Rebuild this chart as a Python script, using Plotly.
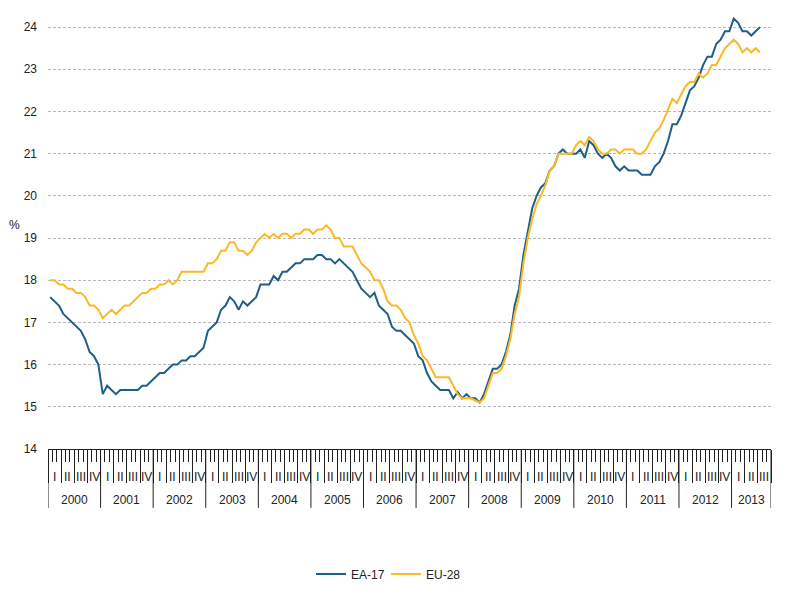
import plotly.graph_objects as go

# ---------------- data (monthly, Jan 2000 onwards, %) ----------------
first_year = 2000
axis_years = list(range(2000, 2014))
quarter_labels = ["I", "II", "III", "IV"]
axis_months = 165  # Jan 2000 .. Sep 2013 shown on the axis

ea17 = [
    17.6, 17.5, 17.4, 17.2, 17.1, 17.0, 16.9, 16.8, 16.6, 16.3, 16.2, 16.0,   # 2000
    15.3, 15.5, 15.4, 15.3, 15.4, 15.4, 15.4, 15.4, 15.4, 15.5, 15.5, 15.6,   # 2001
    15.7, 15.8, 15.8, 15.9, 16.0, 16.0, 16.1, 16.1, 16.2, 16.2, 16.3, 16.4,   # 2002
    16.8, 16.9, 17.0, 17.3, 17.4, 17.6, 17.5, 17.3, 17.5, 17.4, 17.5, 17.6,   # 2003
    17.9, 17.9, 17.9, 18.1, 18.0, 18.2, 18.2, 18.3, 18.4, 18.4, 18.5, 18.5,   # 2004
    18.5, 18.6, 18.6, 18.5, 18.5, 18.4, 18.5, 18.4, 18.3, 18.2, 18.0, 17.8,   # 2005
    17.7, 17.6, 17.7, 17.4, 17.3, 17.2, 16.9, 16.8, 16.8, 16.7, 16.6, 16.5,   # 2006
    16.2, 16.1, 15.8, 15.6, 15.5, 15.4, 15.4, 15.4, 15.2, 15.35, 15.2, 15.3,  # 2007
    15.2, 15.2, 15.1, 15.3, 15.6, 15.9, 15.9, 16.0, 16.3, 16.7, 17.4, 17.8,   # 2008
    18.6, 19.2, 19.7, 20.0, 20.2, 20.3, 20.6, 20.7, 21.0, 21.1, 21.0, 21.0,   # 2009
    21.0, 21.1, 20.9, 21.3, 21.2, 21.0, 20.9, 21.0, 20.9, 20.7, 20.6, 20.7,   # 2010
    20.6, 20.6, 20.6, 20.5, 20.5, 20.5, 20.7, 20.8, 21.0, 21.3, 21.7, 21.7,   # 2011
    21.9, 22.2, 22.5, 22.6, 22.8, 23.1, 23.3, 23.3, 23.6, 23.7, 23.9, 23.9,   # 2012
    24.2, 24.1, 23.9, 23.9, 23.8, 23.9, 24.0,                                 # 2013
]

eu28 = [
    18.0, 18.0, 17.9, 17.9, 17.8, 17.8, 17.7, 17.7, 17.6, 17.4, 17.4, 17.3,   # 2000
    17.1, 17.2, 17.3, 17.2, 17.3, 17.4, 17.4, 17.5, 17.6, 17.7, 17.7, 17.8,   # 2001
    17.8, 17.9, 17.9, 18.0, 17.9, 18.0, 18.2, 18.2, 18.2, 18.2, 18.2, 18.2,   # 2002
    18.4, 18.4, 18.5, 18.7, 18.7, 18.9, 18.9, 18.7, 18.7, 18.6, 18.7, 18.9,   # 2003
    19.0, 19.1, 19.0, 19.1, 19.0, 19.1, 19.1, 19.0, 19.1, 19.1, 19.2, 19.2,   # 2004
    19.1, 19.2, 19.2, 19.3, 19.2, 19.0, 19.0, 18.8, 18.8, 18.8, 18.6, 18.4,   # 2005
    18.3, 18.2, 18.0, 18.0, 17.8, 17.5, 17.4, 17.4, 17.3, 17.1, 17.0, 16.7,   # 2006
    16.5, 16.2, 16.1, 15.9, 15.7, 15.7, 15.7, 15.7, 15.5, 15.3, 15.2, 15.2,   # 2007
    15.2, 15.15, 15.1, 15.2, 15.5, 15.8, 15.8, 15.9, 16.2, 16.6, 17.2, 17.6,  # 2008
    18.4, 19.0, 19.45, 19.8, 20.0, 20.25, 20.6, 20.7, 21.0, 21.0, 21.0, 21.0, # 2009
    21.2, 21.3, 21.2, 21.4, 21.3, 21.1, 21.0, 21.0, 21.1, 21.1, 21.0, 21.1,   # 2010
    21.1, 21.1, 21.0, 21.0, 21.1, 21.3, 21.5, 21.6, 21.8, 22.05, 22.3, 22.2,  # 2011
    22.4, 22.6, 22.7, 22.7, 22.9, 22.8, 22.9, 23.1, 23.1, 23.3, 23.5, 23.6,   # 2012
    23.7, 23.6, 23.4, 23.5, 23.4, 23.5, 23.4,                                 # 2013
]

y_ticks = list(range(14, 25))

# ---------------- layout helpers ----------------
FIG_W, FIG_H = 810, 593
PLOT_L, PLOT_R, PLOT_T, PLOT_B = 48, 771, 6, 450
PW, PH = PLOT_R - PLOT_L, PLOT_B - PLOT_T


def pxx(x):
    return (x - PLOT_L) / PW


def pxy(y):
    return (PLOT_B - y) / PH


BLUE = "#1d5f88"
YELLOW = "#fbb827"
INK = "#222222"
FONT = "Liberation Sans, Arial, sans-serif"

fig = go.Figure()
fig.add_trace(go.Scatter(x=list(range(len(ea17))), y=ea17, mode="lines", name="EA-17",
                         line=dict(color=BLUE, width=2), legend="legend"))
fig.add_trace(go.Scatter(x=list(range(len(eu28))), y=eu28, mode="lines", name="EU-28",
                         line=dict(color=YELLOW, width=2), legend="legend2"))

month_bounds = [m - 0.5 for m in range(axis_months + 1)]
quarter_bounds = [m - 0.5 for m in range(0, axis_months + 1, 3)]
year_bounds = [m - 0.5 for m in range(0, axis_months, 12)] + [axis_months - 0.5]

shapes = []
for xb in year_bounds:
    shapes.append(dict(type="line", xref="x", yref="paper", x0=xb, x1=xb,
                       y0=0, y1=pxy(509), line=dict(color=INK, width=1)))

annotations = []
for i, yr in enumerate(axis_years):
    m0 = 12 * i
    m1 = min(m0 + 12, axis_months)
    annotations.append(dict(x=(m0 + m1 - 1) / 2, y=pxy(501), xref="x", yref="paper",
                            text=str(yr), showarrow=False, xanchor="center", yanchor="middle",
                            font=dict(size=12, color=INK, family=FONT)))
    for q in range(4):
        qs = m0 + 3 * q
        if qs >= axis_months:
            break
        annotations.append(dict(x=qs + 1, y=pxy(478), xref="x", yref="paper",
                                text=quarter_labels[q], showarrow=False,
                                xanchor="center", yanchor="middle",
                                font=dict(size=12, color=INK, family=FONT)))

annotations.append(dict(x=pxx(14), y=pxy(225), xref="paper", yref="paper", text="%",
                        showarrow=False, xanchor="center", yanchor="middle",
                        font=dict(size=12, color=INK, family=FONT)))

legend_common = dict(orientation="h", xanchor="left", yanchor="middle", y=pxy(574),
                     font=dict(size=12, color=INK, family=FONT), bgcolor="rgba(0,0,0,0)",
                     itemwidth=30)

fig.update_layout(
    width=FIG_W, height=FIG_H,
    margin=dict(l=PLOT_L, r=FIG_W - PLOT_R, t=PLOT_T, b=FIG_H - PLOT_B),
    paper_bgcolor="white", plot_bgcolor="white",
    font=dict(family=FONT, size=12, color=INK),
    showlegend=True,
    legend=dict(x=pxx(311), **legend_common),
    legend2=dict(x=pxx(386), **legend_common),
    shapes=shapes,
    annotations=annotations,
    xaxis=dict(range=[-0.5, axis_months - 0.5], showgrid=False, zeroline=False,
               showline=True, linecolor=INK, linewidth=1,
               tickmode="array", tickvals=quarter_bounds, ticks="outside", ticklen=33,
               tickcolor=INK, tickwidth=1, showticklabels=False,
               minor=dict(tickmode="array", tickvals=month_bounds, ticks="outside",
                          ticklen=12, tickcolor=INK, tickwidth=1, showgrid=False)),
    yaxis=dict(range=[14, 24.5], tickmode="array", tickvals=y_ticks,
               ticktext=[str(v) for v in y_ticks], showgrid=True, gridcolor="#b8b8b8",
               griddash="3px,2px", gridwidth=1, zeroline=False, showline=False,
               ticks="", ticklabelstandoff=10,
               tickfont=dict(size=12, color=INK, family=FONT)),
)

fig.write_html("out.html", config={"displayModeBar": False},
               post_script="document.body.style.margin='0px';")
